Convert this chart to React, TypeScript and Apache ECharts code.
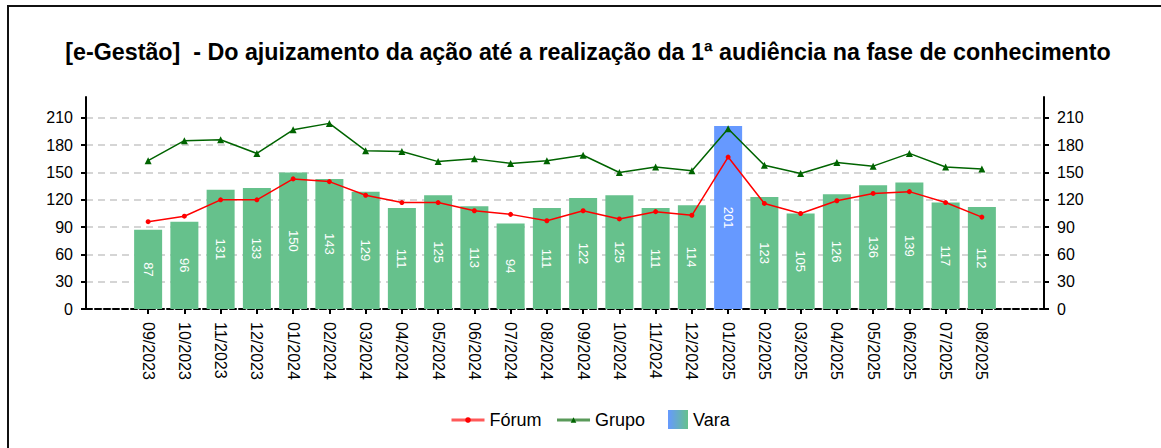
import React, { useEffect, useRef } from "react";
import * as echarts from "echarts";

const months = [
  "09/2023", "10/2023", "11/2023", "12/2023", "01/2024", "02/2024", "03/2024", "04/2024",
  "05/2024", "06/2024", "07/2024", "08/2024", "09/2024", "10/2024", "11/2024", "12/2024",
  "01/2025", "02/2025", "03/2025", "04/2025", "05/2025", "06/2025", "07/2025", "08/2025",
];
const vara = [87, 96, 131, 133, 150, 143, 129, 111, 125, 113, 94, 111, 122, 125, 111, 114, 201, 123, 105, 126, 136, 139, 117, 112];
const forum = [96, 102, 120, 120, 143, 140, 125, 117, 117, 108, 104, 97, 108, 99, 107, 103, 167, 116, 105, 119, 127, 129, 117, 101];
const grupo = [163, 185, 186, 171, 197, 204, 174, 173, 162, 165, 160, 163, 169, 150, 156, 152, 198, 158, 149, 161, 157, 171, 156, 154];
const yTicks = [0, 30, 60, 90, 120, 150, 180, 210];
const highlightMonth = "01/2025";
const titleText = "[e-Gestão]\u00a0 - Do ajuizamento da ação até a realização da 1ª audiência na fase de conhecimento";

const FONT = "'Liberation Sans', Arial, sans-serif";
const GREEN = "#66c18c";
const BLUE = "#6699ff";

export default function App() {
  const ref = useRef<HTMLDivElement>(null);
  useEffect(() => {
    if (!ref.current) return;
    const chart = echarts.init(ref.current, null, { renderer: "svg" });
    const yMax = 233;
    const axisLabel = { fontSize: 16, color: "#000", fontFamily: FONT, margin: 13 };
    const option: any = {
      animation: false,
      textStyle: { fontFamily: FONT },
      graphic: [
        {
          type: "rect",
          shape: { x: 8, y: 6, width: 1300, height: 600 },
          style: { fill: "none", stroke: "#111", lineWidth: 2 },
          silent: true,
        },
        {
          type: "text",
          x: 588,
          y: 52,
          scaleX: 0.97,
          style: {
            text: titleText,
            font: `bold 24px ${FONT}`,
            fill: "#000",
            align: "center",
            verticalAlign: "middle",
          },
        },
      ],
      grid: [
        { left: 86, right: 117, top: 97, bottom: 139 },
        { left: 130, right: 161, top: 97, bottom: 139 },
      ],
      legend: [
        {
          data: ["Fórum", "Grupo"],
          left: 445,
          top: 406,
          itemWidth: 33,
          itemHeight: 7,
          itemGap: 14,
          itemTextGap: 10,
          lineStyle: { width: 3, opacity: 0.65 },
          textStyle: { fontSize: 18, color: "#000", fontFamily: FONT },
        },
        {
          data: [
            {
              name: "Vara",
              icon: "rect",
              itemStyle: {
                color: new echarts.graphic.LinearGradient(0, 0, 1, 0, [
                  { offset: 0, color: BLUE },
                  { offset: 1, color: GREEN },
                ]),
              },
            },
          ],
          left: 663,
          top: 405,
          itemWidth: 20,
          itemHeight: 19,
          itemTextGap: 10,
          textStyle: { fontSize: 18, color: "#000", fontFamily: FONT },
        },
      ],
      xAxis: [
        {
          gridIndex: 0,
          type: "value",
          min: 0,
          max: 1,
          axisLine: { show: true, onZero: false, lineStyle: { color: "#000", width: 2, type: [6, 3] } },
          axisTick: { show: false },
          axisLabel: { show: false },
          splitLine: { show: false },
        },
        {
          gridIndex: 1,
          type: "category",
          data: months,
          axisLine: { show: false },
          axisTick: { show: true, alignWithLabel: true, length: 5, lineStyle: { color: "#000", width: 2 } },
          axisLabel: { ...axisLabel, rotate: -90, margin: 13, interval: 0 },
        },
      ],
      yAxis: [
        {
          gridIndex: 0,
          type: "value",
          position: "left",
          min: 0,
          max: yMax,
          interval: 30,
          axisLine: { show: true, lineStyle: { color: "#000", width: 2 } },
          axisTick: { show: true, length: 5, lineStyle: { color: "#000", width: 2 }, customValues: yTicks },
          axisLabel: { ...axisLabel, customValues: yTicks },
          splitLine: { show: true, lineStyle: { color: "#c8c8c8", type: [7, 5], width: 1.5 } },
        },
        {
          gridIndex: 0,
          type: "value",
          position: "right",
          min: 0,
          max: yMax,
          interval: 30,
          axisLine: { show: true, lineStyle: { color: "#000", width: 2 } },
          axisTick: { show: true, length: 5, lineStyle: { color: "#000", width: 2 }, customValues: yTicks },
          axisLabel: { ...axisLabel, customValues: yTicks },
          splitLine: { show: false },
        },
        {
          gridIndex: 1,
          type: "value",
          min: 0,
          max: yMax,
          show: false,
        },
      ],
      series: [
        {
          name: "Vara",
          type: "bar",
          xAxisIndex: 1,
          yAxisIndex: 2,
          barWidth: 28,
          itemStyle: {
            color: new echarts.graphic.LinearGradient(0, 0, 1, 0, [
              { offset: 0, color: BLUE },
              { offset: 1, color: GREEN },
            ]),
          },
          data: vara.map((v, i) => ({
            value: v,
            itemStyle: { color: months[i] === highlightMonth ? BLUE : GREEN },
          })),
          label: {
            show: true,
            position: "inside",
            rotate: -90,
            color: "#fff",
            fontSize: 13,
            fontFamily: FONT,
          },
          z: 2,
        },
        {
          name: "Fórum",
          type: "line",
          xAxisIndex: 1,
          yAxisIndex: 2,
          data: forum,
          symbol: "circle",
          symbolSize: 5,
          itemStyle: { color: "#ff0000" },
          lineStyle: { color: "#ff0000", width: 1.5 },
          z: 4,
        },
        {
          name: "Grupo",
          type: "line",
          xAxisIndex: 1,
          yAxisIndex: 2,
          data: grupo,
          symbol: "triangle",
          symbolSize: 7,
          itemStyle: { color: "#006400" },
          lineStyle: { color: "#006400", width: 1.5 },
          z: 4,
        },
      ],
    };
    chart.setOption(option);
    return () => chart.dispose();
  }, []);
  return (
    <div
      ref={ref}
      style={{ position: "fixed", left: 0, top: 0, width: 1161, height: 448, background: "#fff" }}
    />
  );
}
